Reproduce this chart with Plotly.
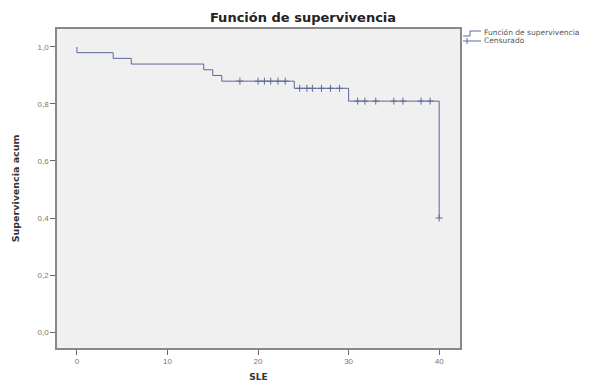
import plotly.graph_objects as go

# Kaplan-Meier step data
event_times = [0, 0, 4, 6, 14, 15, 16, 24, 30, 40]
survival = [1.0, 0.98, 0.96, 0.94, 0.92, 0.90, 0.88, 0.855, 0.81, 0.40]

# censored observations
censored_times = [18, 20, 20.7, 21.4, 22.2, 23, 24.6, 25.4, 26, 27, 28, 29,
                  31, 31.8, 33, 35, 36, 38, 39, 40]

legend_labels = ["Función de supervivencia", "Censurado"]

def surv_at(t):
    s = survival[0]
    for et, sv in zip(event_times, survival):
        if et <= t:
            s = sv
    return s

censored_surv = [surv_at(t) for t in censored_times]

x_ticks = [0, 10, 20, 30, 40]
y_ticks = [0.0, 0.2, 0.4, 0.6, 0.8, 1.0]

line_color = "#5d6896"
W, H = 600, 382
ML, MR, MT, MB = 57, 140, 29, 34
title_font = "DejaVu Sans, Verdana, sans-serif"

fig = go.Figure()
fig.add_trace(go.Scatter(
    x=event_times, y=survival, mode="lines", line_shape="hv",
    line=dict(color=line_color, width=1),
    name=legend_labels[0], showlegend=False))
fig.add_trace(go.Scatter(
    x=censored_times, y=censored_surv, mode="markers",
    marker=dict(symbol="cross-thin-open", size=5, color=line_color,
                line=dict(color=line_color, width=1)),
    name=legend_labels[1], showlegend=False))

# manual compact legend (paper coordinates computed from pixels)
def px(xp):
    return (xp - ML) / (W - ML - MR)

def py(yp):
    return 1 - (yp - MT) / (H - MT - MB)

shapes = [
    dict(type="path", xref="paper", yref="paper",
         path=f"M {px(463)},{py(36)} L {px(470)},{py(36)} L {px(470)},{py(31)} L {px(481)},{py(31)}",
         line=dict(color=line_color, width=1)),
    dict(type="line", xref="paper", yref="paper",
         x0=px(463), x1=px(481), y0=py(41), y1=py(41),
         line=dict(color=line_color, width=1)),
    dict(type="line", xref="paper", yref="paper",
         x0=px(467), x1=px(467), y0=py(38), y1=py(44),
         line=dict(color=line_color, width=1)),
]
annotations = [
    dict(text=legend_labels[0], xref="paper", yref="paper", x=px(482), y=py(32),
         xanchor="left", yanchor="middle", showarrow=False,
         font=dict(family=title_font, size=7.5, color="#555")),
    dict(text=legend_labels[1], xref="paper", yref="paper", x=px(482), y=py(41),
         xanchor="left", yanchor="middle", showarrow=False,
         font=dict(family=title_font, size=7.5, color="#555")),
]

fig.update_layout(
    width=W, height=H,
    paper_bgcolor="white", plot_bgcolor="#f0f0f0",
    margin=dict(l=ML, r=MR, t=MT, b=MB, autoexpand=False),
    separators=",.",
    font=dict(family="Liberation Sans, Arial, sans-serif", size=8, color="#777"),
    title=dict(text="<b>Función de supervivencia</b>", x=(303 / W), xanchor="center",
               xref="container", y=1 - 17 / H, yanchor="middle",
               font=dict(family=title_font, size=13, color="#222")),
    showlegend=False,
    shapes=shapes,
    annotations=annotations,
)
fig.update_xaxes(range=[-2.2, 42.3], tickvals=x_ticks, ticks="outside", ticklen=5,
                 tickcolor="#666", showgrid=False, zeroline=False,
                 showline=True, linecolor="#888", linewidth=1.5, mirror=True,
                 title=dict(text="<b>SLE</b>",
                            font=dict(family=title_font, size=9, color="#333"),
                            standoff=8))
fig.update_yaxes(range=[-0.056, 1.063], tickvals=y_ticks, tickformat=".1f",
                 ticks="outside", ticklen=5, tickcolor="#666",
                 showgrid=False, zeroline=False,
                 showline=True, linecolor="#888", linewidth=1.5, mirror=True,
                 title=dict(text="<b>Supervivencia acum</b>",
                            font=dict(family=title_font, size=9.5, color="#333"),
                            standoff=16))

fig.write_html("out.html", config={"displayModeBar": False},
               post_script="document.body.style.margin='0px';document.body.style.padding='0px';")
